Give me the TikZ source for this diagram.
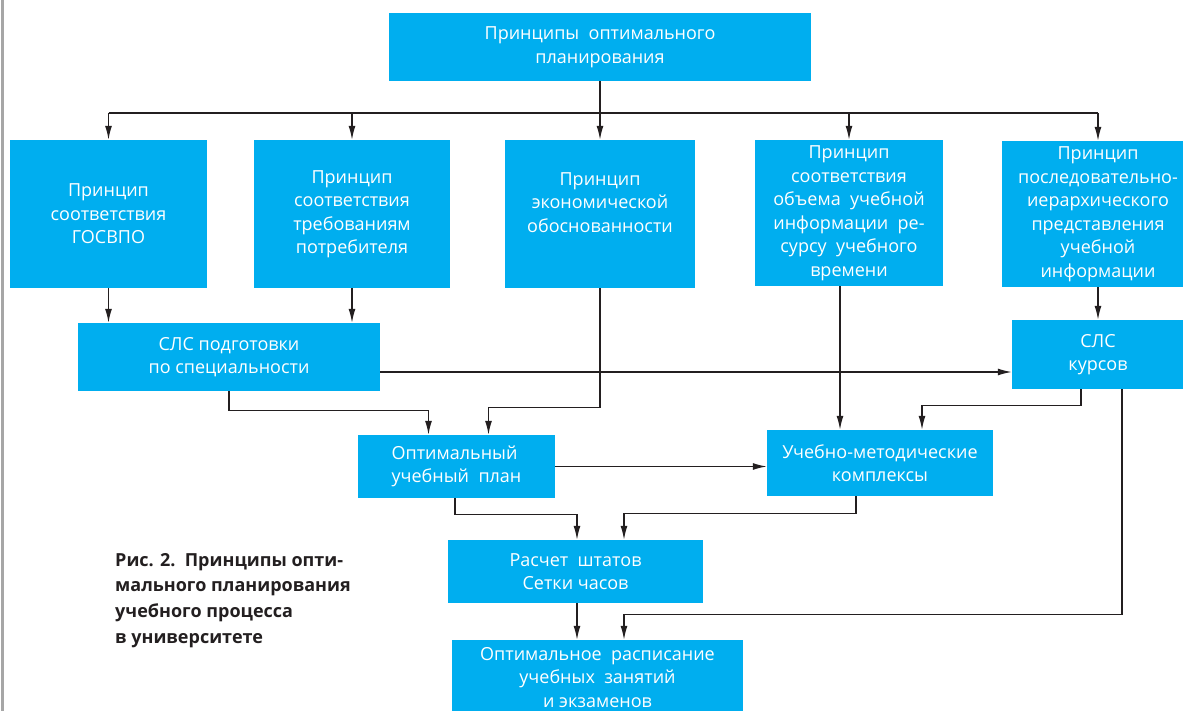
\documentclass[tikz,border=0pt]{standalone}
\usepackage{fontspec}
\setmainfont{Open Sans}
\usetikzlibrary{arrows.meta,calc}
\definecolor{boxcyan}{HTML}{00AEEF}
\definecolor{ink}{HTML}{231F20}
\begin{document}
\begin{tikzpicture}[x=1pt,y=-1pt,
 box/.style={fill=boxcyan, text=white, align=center, inner sep=0pt, font=\fontsize{18}{23.5}\selectfont},
 arr/.style={draw=ink, line width=1.4pt, -{Latex[length=14pt,width=7pt]}},
 ln/.style={draw=ink, line width=1.4pt}]
\useasboundingbox (0,0) rectangle (1183,711);
\draw[gray!70, line width=3pt] (2,0) -- (2,711);

\node[box, minimum width=422pt, minimum height=68pt] (top) at (600,47) {Принципы\ \ оптимального\\планирования};
\node[box, minimum width=197pt, minimum height=148pt] (b1) at (108.5,214) {Принцип\\соответствия\\ГОСВПО};
\node[box, minimum width=196pt, minimum height=148pt] (b2) at (352,214) {Принцип\\соответствия\\требованиям\\потребителя};
\node[box, minimum width=190pt, minimum height=148pt] (b3) at (600,214) {Принцип\\экономической\\обоснованности\\\mbox{}};
\node[box, minimum width=188pt, minimum height=146pt] (b4) at (849,213) {Принцип\\соответствия\\объема\ \ учебной\\информации\ \ ре-\\сурсу\ \ учебного\\времени};
\node[box, minimum width=192pt, minimum height=146pt] (b5) at (1098,214) {Принцип\\последовательно-\\иерархического\\представления\\учебной\\информации};
\node[box, minimum width=302pt, minimum height=68pt] (slsp) at (229,357) {СЛС подготовки\\по специальности};
\node[box, minimum width=172pt, minimum height=69pt] (slk) at (1098,354.5) {СЛС\\курсов};
\node[box, align=left, minimum width=197pt, minimum height=63pt] (opt) at (456.5,466.5) {Оптимальный\\учебный\ \ план};
\node[box, minimum width=226pt, minimum height=66pt] (umk) at (880,463) {Учебно-методические\\комплексы};
\node[box, minimum width=255pt, minimum height=63pt] (rs) at (575.5,571.5) {Расчет\ \ штатов\\Сетки часов};
\node[box, minimum width=291pt, minimum height=75pt] (rasp) at (597.5,677.5) {Оптимальное\ \ расписание\\учебных\ \ занятий\\и экзаменов};

\node[anchor=north west, align=left, text=ink, inner sep=0pt, font=\bfseries\fontsize{18}{25.7}\selectfont] (cap) at (115,553) {Рис. 2.\ \ Принципы опти-\\мального планирования\\учебного процесса\\в университете};

\coordinate (bus) at (600,113);
\draw[ln] (top.south) -- (bus);
\draw[ln] (bus -| b1.north) -- (bus -| b5.north);
\foreach \n in {b1,b2,b3,b4,b5} \draw[arr] (bus -| \n.north) -- (\n.north);

\draw[arr] (b1.south) -- (b1.south |- slsp.north);
\draw[arr] (b2.south) -- (b2.south |- slsp.north);
\draw[arr] (b5.south) -- (slk.north);
\coordinate (s1) at ([yshift=-15pt]slsp.east);
\draw[arr] (s1) -- (s1 -| slk.west);
\draw[arr] (slsp.south) -- ++(0,19) -| ([xshift=-28pt]opt.north);
\draw[arr] (b3.south) -- ++(0,119) -| ([xshift=32pt]opt.north);
\coordinate (c4) at ([xshift=-9pt]b4.south);
\draw[arr] (c4) -- (c4 |- umk.north);
\coordinate (c5) at ([xshift=-17pt]slk.south);
\draw[arr] (c5) -- ++(0,16) -| ([xshift=42pt]umk.north);
\draw[arr] (opt.east) -- (opt.east -| umk.west);
\coordinate (c6) at ([xshift=-1.5pt]opt.south);
\draw[arr] (c6) -- ++(0,16) -| ([xshift=1.5pt]rs.north);
\coordinate (c7) at ([xshift=-24pt]umk.south);
\draw[arr] (c7) -- ++(0,17) -| ([xshift=48.5pt]rs.north);
\coordinate (c8) at ([xshift=1.5pt]rs.south);
\draw[arr] (c8) -- (c8 |- rasp.north);
\coordinate (c9) at ([xshift=24pt]slk.south);
\draw[arr] (c9) -- ++(0,225) -| ([xshift=26.5pt]rasp.north);
\end{tikzpicture}
\end{document}
